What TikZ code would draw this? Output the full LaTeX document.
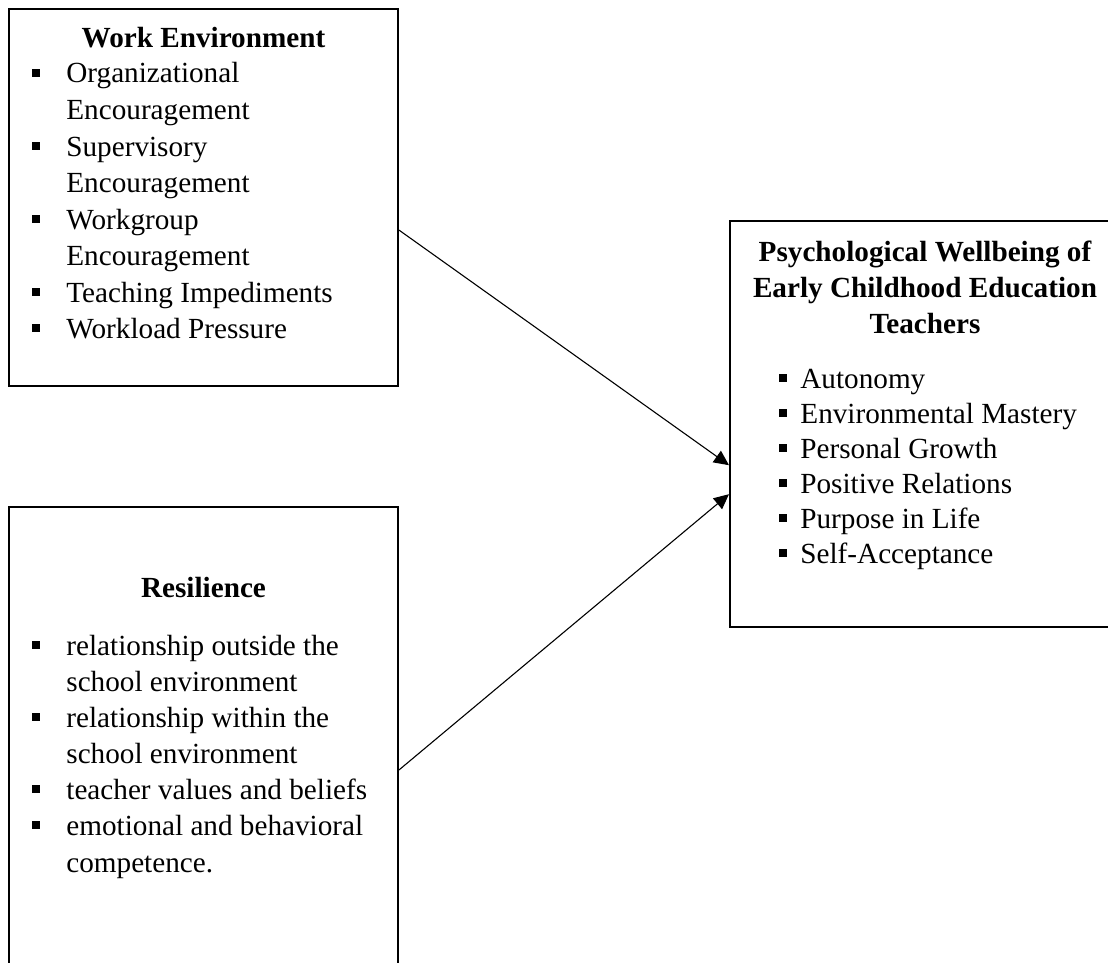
\documentclass[tikz,border=0pt]{standalone}
\usepackage{fontspec}
\setmainfont{Liberation Serif}
\usetikzlibrary{calc,arrows.meta}
\begin{document}
\begin{tikzpicture}[x=0.5pt,y=-0.5pt,
  box/.style={draw,line width=1pt,rectangle,inner sep=0pt,minimum width=#1},
  txt/.style={anchor=base west,inner sep=0pt,font=\fontsize{14.6}{18}\selectfont},
  head/.style={anchor=base,inner sep=0pt,font=\fontsize{14.6}{18}\selectfont\bfseries},
  bul/.style={fill=black,rectangle,inner sep=0pt,minimum size=4pt},
  conn/.style={line width=0.55pt,-{Triangle[length=7.5pt,width=7pt]}}]
\clip (0,0) rectangle (1108,963);
% boxes
\node[box=194.5pt,minimum height=188.5pt] (we) at (203.5,197.5) {};
\node[box=195pt,minimum height=203pt] (pw) at (925,424) {};
\node[box=194.5pt,minimum height=240pt] (rs) at (203.5,747) {};
% Work Environment
\node[head] (weh) at (203.5,48) {Work Environment};
\node[bul] (wb1) at (36,73) {};
\node[txt] (wt1) at (66,83) {Organizational};
\node[txt] (wt1b) at (66,119.5) {Encouragement};
\node[bul] (wb2) at (36,146) {};
\node[txt] (wt2) at (66,156) {Supervisory};
\node[txt] (wt2b) at (66,192.5) {Encouragement};
\node[bul] (wb3) at (36,219) {};
\node[txt] (wt3) at (66,229) {Workgroup};
\node[txt] (wt3b) at (66,265.5) {Encouragement};
\node[bul] (wb4) at (36,292) {};
\node[txt] (wt4) at (66,302) {Teaching Impediments};
\node[bul] (wb5) at (36,328) {};
\node[txt] (wt5) at (66,338) {Workload Pressure};
% Psychological Wellbeing
\node[head] (pwh1) at (925,261) {Psychological Wellbeing of};
\node[head] (pwh2) at (925,297) {Early Childhood Education};
\node[head] (pwh3) at (925,333) {Teachers};
\node[bul] (pb1) at (782.5,378) {};
\node[txt] (pt1) at (800,388) {Autonomy};
\node[bul] (pb2) at (782.5,413) {};
\node[txt] (pt2) at (800,423) {Environmental Mastery};
\node[bul] (pb3) at (782.5,448) {};
\node[txt] (pt3) at (800,458) {Personal Growth};
\node[bul] (pb4) at (782.5,483) {};
\node[txt] (pt4) at (800,493) {Positive Relations};
\node[bul] (pb5) at (782.5,518) {};
\node[txt] (pt5) at (800,528) {Purpose in Life};
\node[bul] (pb6) at (782.5,553) {};
\node[txt] (pt6) at (800,563) {Self-Acceptance};
% Resilience
\node[head] (rsh) at (203.5,597) {Resilience};
\node[bul] (rb1) at (36,645) {};
\node[txt] (rt1) at (66,655) {relationship outside the};
\node[txt] (rt1b) at (66,691) {school environment};
\node[bul] (rb2) at (36,717) {};
\node[txt] (rt2) at (66,727) {relationship within the};
\node[txt] (rt2b) at (66,763) {school environment};
\node[bul] (rb3) at (36,789) {};
\node[txt] (rt3) at (66,799) {teacher values and beliefs};
\node[bul] (rb4) at (36,825) {};
\node[txt] (rt4) at (66,835) {emotional and behavioral};
\node[txt] (rt4b) at (66,872) {competence.};
% connectors
\draw[conn] ($(we.north east)!0.586!(we.south east)$) -- ($(pw.north west)!0.601!(pw.south west)$);
\draw[conn] ($(rs.north east)!0.5476!(rs.south east)$) -- ($(pw.north west)!0.672!(pw.south west)$);
\end{tikzpicture}
\end{document}
